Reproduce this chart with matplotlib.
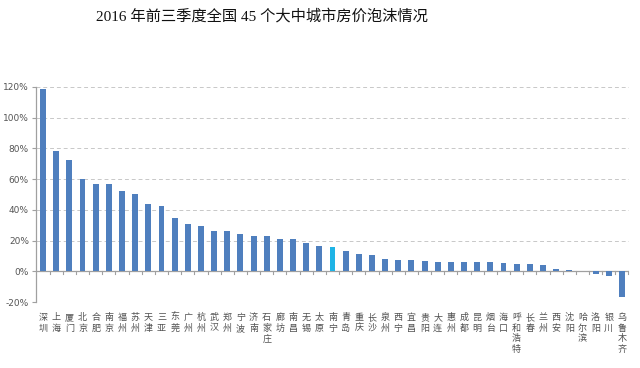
import numpy as np
import matplotlib
matplotlib.use("Agg")
import matplotlib.pyplot as plt

plt.rcParams['font.family'] = ['Noto Sans CJK SC', 'DejaVu Sans']

cities = ["深圳", "上海", "厦门", "北京", "合肥", "南京", "福州", "苏州", "天津", "三亚",
          "东莞", "广州", "杭州", "武汉", "郑州", "宁波", "济南", "石家庄", "廊坊", "南昌",
          "无锡", "太原", "南宁", "青岛", "重庆", "长沙", "泉州", "西宁", "宜昌", "贵阳",
          "大连", "惠州", "成都", "昆明", "烟台", "海口", "呼和浩特", "长春", "兰州", "西安",
          "沈阳", "哈尔滨", "洛阳", "银川", "乌鲁木齐"]
bubble = [118.5, 78.0, 72.5, 60.0, 56.5, 56.5, 52.0, 50.0, 44.0, 42.5,
          35.0, 30.5, 29.8, 26.0, 26.0, 24.3, 22.8, 22.8, 21.3, 21.1,
          18.3, 16.8, 16.0, 13.0, 11.3, 10.7, 8.0, 7.4, 7.4, 6.8,
          6.4, 6.3, 6.3, 6.3, 6.3, 5.2, 4.5, 4.5, 4.3, 1.7,
          0.6, 0.2, -1.6, -3.0, -16.5]
highlight = "南宁"
yticks = [-20, 0, 20, 40, 60, 80, 100, 120]

fig = plt.figure(figsize=(6.4, 3.68), dpi=100)
ax = fig.add_axes([0.056, 0.179, 0.927, 0.585])

x = np.arange(len(cities))
colors = ["#1FB4E6" if c == highlight else "#4F7FBE" for c in cities]
ax.bar(x, bubble, width=0.45, color=colors, zorder=3)

ax.set_xlim(-0.55, len(cities) - 0.45)
ax.set_ylim(-20, 120)
ax.set_yticks(yticks)
ax.set_yticklabels([f"{v}%" for v in yticks], fontsize=6.5, color="#555555",
                   family=['DejaVu Sans'])
for v in yticks:
    if v != 0:
        ax.axhline(v, color="#C8C8C8", lw=0.7, ls=(0, (4, 3)), zorder=1)
ax.axhline(0, color="#A0A0A0", lw=0.9, zorder=2)

for s in ["top", "right", "bottom"]:
    ax.spines[s].set_visible(False)
ax.spines["left"].set_color("#A0A0A0")
ax.spines["left"].set_linewidth(0.9)
ax.tick_params(axis="y", length=3, color="#A0A0A0", pad=2)

ax.set_xticks([])
for i, c in enumerate(cities):
    ax.text(i, -0.05, "\n".join(c), transform=ax.get_xaxis_transform(),
            ha="center", va="top", fontsize=6.5, color="#505050", linespacing=1.25)
    ax.plot([i + 0.5, i + 0.5], [0, -1.6], color="#A0A0A0", lw=0.8, zorder=2,
            clip_on=False)

fig.text(0.41, 0.955, "2016 年前三季度全国 45 个大中城市房价泡沫情况",
         ha="center", va="center", fontsize=11, color="#111111",
         family=['Liberation Serif', 'Noto Sans CJK SC'])

fig.savefig("out.png", dpi=100, facecolor="white")
